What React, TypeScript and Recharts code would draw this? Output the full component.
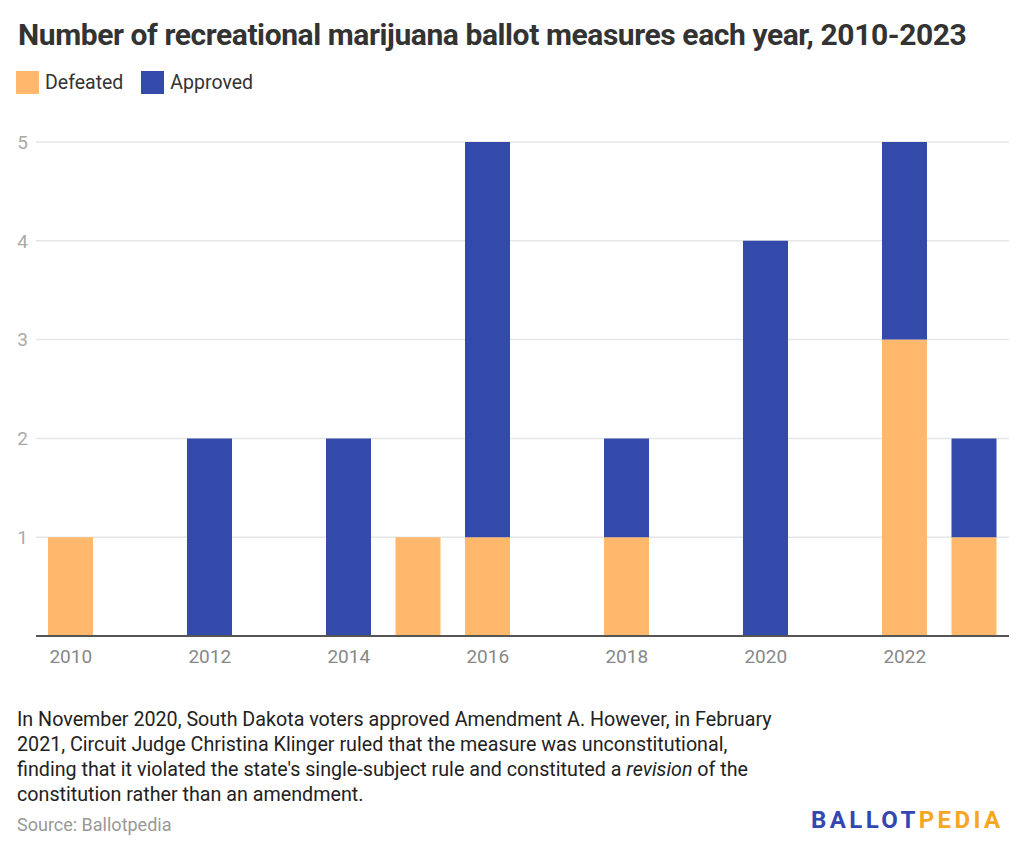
import { Bar, BarChart, CartesianGrid, XAxis, YAxis } from "recharts"

// Ballot measures per year (recreational marijuana), 2010-2023
const years = ["2010", "2011", "2012", "2013", "2014", "2015", "2016", "2017", "2018", "2019", "2020", "2021", "2022", "2023"]
const defeated = [1, 0, 0, 0, 0, 1, 1, 0, 1, 0, 0, 0, 3, 1]
const approved = [0, 0, 2, 0, 2, 0, 4, 0, 1, 0, 4, 0, 2, 1]
const yTicks = [1, 2, 3, 4, 5]

const ORANGE = "#ffb86c"
const BLUE = "#334aab"
const FONT = "Roboto, sans-serif"

const data = years.map((year, i) => ({ year, defeated: defeated[i], approved: approved[i] }))

function LegendItem({ color, label }: { color: string; label: string }) {
  return (
    <div style={{ display: "flex", alignItems: "center", marginRight: 18 }}>
      <div style={{ width: 23, height: 23, background: color, marginRight: 6 }} />
      <span style={{ fontSize: 19.5, color: "#333" }}>{label}</span>
    </div>
  )
}

export default function App() {
  return (
    <div
      style={{
        position: "absolute",
        left: 0,
        top: 0,
        width: 1024,
        height: 854,
        background: "#fff",
        fontFamily: FONT,
        overflow: "hidden",
      }}
    >
      <div style={{ position: "absolute", left: 0, top: 0 }}>
        <BarChart width={1024} height={700} data={data} margin={{ top: 142, right: 15, left: 0, bottom: 0 }}>
          <CartesianGrid vertical={false} stroke="#e6e6e6" strokeWidth={1.5} />
          <XAxis
            dataKey="year"
            interval={1}
            height={64}
            tickLine={false}
            tickMargin={8}
            axisLine={{ stroke: "#555", strokeWidth: 2 }}
            tick={{ fill: "#888", fontSize: 19, fontFamily: FONT }}
          />
          <YAxis
            width={36}
            domain={[0, 5]}
            ticks={yTicks}
            axisLine={false}
            tickLine={false}
            tick={{ fill: "#aaa", fontSize: 19, fontFamily: FONT }}
          />
          <Bar dataKey="defeated" stackId="a" fill={ORANGE} barSize={45} isAnimationActive={false} />
          <Bar dataKey="approved" stackId="a" fill={BLUE} barSize={45} isAnimationActive={false} />
        </BarChart>
      </div>

      <div
        style={{
          position: "absolute",
          left: 18,
          top: 17,
          fontSize: 30,
          fontWeight: 700,
          color: "#333",
          letterSpacing: -0.42,
          whiteSpace: "nowrap",
        }}
      >
        Number of recreational marijuana ballot measures each year, 2010-2023
      </div>

      <div style={{ position: "absolute", left: 16, top: 71, display: "flex" }}>
        <LegendItem color={ORANGE} label="Defeated" />
        <LegendItem color={BLUE} label="Approved" />
      </div>

      <div
        style={{
          position: "absolute",
          left: 17,
          top: 707,
          fontSize: 19.7,
          lineHeight: "25px",
          color: "#222",
          whiteSpace: "nowrap",
        }}
      >
        In November 2020, South Dakota voters approved Amendment A. However, in February
        <br />
        2021, Circuit Judge Christina Klinger ruled that the measure was unconstitutional,
        <br />
        finding that it violated the state's single-subject rule and constituted a <i>revision</i> of the
        <br />
        constitution rather than an amendment.
      </div>

      <div style={{ position: "absolute", left: 17, top: 814, fontSize: 18, color: "#999" }}>Source: Ballotpedia</div>

      <div
        style={{
          position: "absolute",
          left: 811,
          top: 806,
          fontSize: 24,
          fontWeight: 700,
          letterSpacing: 3.4,
          whiteSpace: "nowrap",
        }}
      >
        <span style={{ color: "#3347b0" }}>BALLOT</span>
        <span style={{ color: "#f5a623" }}>PEDIA</span>
      </div>
    </div>
  )
}
